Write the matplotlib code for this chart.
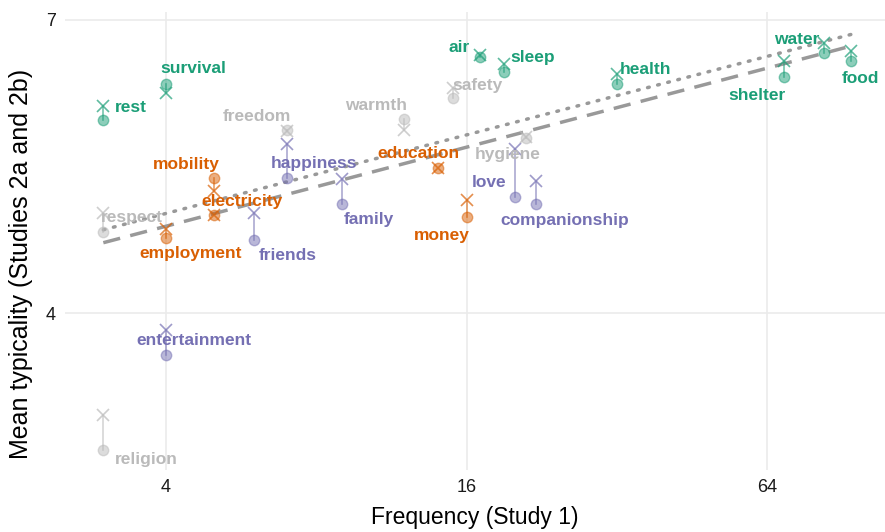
import numpy as np
import matplotlib.pyplot as plt

plt.rcParams['font.family'] = ['Liberation Sans', 'DejaVu Sans']

words = ['rest', 'survival', 'air', 'sleep', 'health', 'shelter', 'water', 'food',
         'mobility', 'electricity', 'employment', 'education', 'money',
         'happiness', 'family', 'friends', 'entertainment', 'love', 'companionship',
         'freedom', 'respect', 'religion', 'warmth', 'safety', 'hygiene']
groups = ['green'] * 8 + ['orange'] * 5 + ['purple'] * 6 + ['grey'] * 6
freq = [3, 4, 17, 19, 32, 69, 83, 94,
        5, 5, 4, 14, 16,
        7, 9, 6, 4, 20, 22,
        7, 3, 3, 12, 15, 21]
typ_2a = [5.97, 6.34, 6.62, 6.46, 6.34, 6.41, 6.66, 6.58,
          5.38, 5.00, 4.77, 5.48, 4.98,
          5.38, 5.12, 4.75, 3.57, 5.19, 5.12,
          5.87, 4.83, 2.60, 5.98, 6.20, 5.79]
typ_2b = [6.12, 6.25, 6.64, 6.55, 6.44, 6.58, 6.76, 6.68,
          5.25, 5.00, 4.86, 5.48, 5.16,
          5.73, 5.37, 5.02, 3.83, 5.68, 5.35,
          5.86, 5.02, 2.96, 5.87, 6.30, 5.80]

colors = {'green': '#1b9e77', 'orange': '#d95f02', 'purple': '#7570b3', 'grey': '#bababa'}

# label offsets in pixels (dx, dy) from the 2a point
offsets = {'rest': (28, 13), 'survival': (28, 16), 'freedom': (-30, 14), 'happiness': (27, 15),
           'mobility': (-28, 14), 'electricity': (28, 14), 'respect': (29, 14),
           'employment': (25, -16), 'friends': (34, -16), 'family': (27, -16),
           'entertainment': (28, 15), 'religion': (43, -9), 'warmth': (-28, 14),
           'education': (-19, 15), 'safety': (25, 12), 'money': (-25, -18), 'air': (-21, 9),
           'sleep': (29, 15), 'love': (-26, 14), 'hygiene': (-18, -17),
           'companionship': (29, -17), 'health': (28, 15), 'shelter': (-27, -18),
           'water': (-27, 13), 'food': (10, -18)}

fig = plt.figure(figsize=(8.85, 5.32), dpi=100)
ax = fig.add_axes([0.074, 0.117, 0.926, 0.861])
ax.set_xscale('log', base=2)

# regression lines
lx = np.log2(freq)
xs = np.linspace(min(lx), max(lx), 50)
b_a = np.polyfit(lx, typ_2a, 1)
b_b = np.polyfit(lx, typ_2b, 1)
ax.plot(2 ** xs, np.polyval(b_a, xs), color='#999999', lw=2.5, ls=(0, (5, 3)), zorder=2)
ax.plot(2 ** xs, np.polyval(b_b, xs), color='#999999', lw=2.5, ls=(0, (0.5, 2.5)),
        dash_capstyle='round', zorder=2)

for w, g, f, a, b in zip(words, groups, freq, typ_2a, typ_2b):
    c = colors[g]
    ax.plot([f, f], [a, b], color=c, alpha=0.6, lw=1.2, zorder=3)
    ax.plot(f, a, 'o', ms=7.5, color=c, alpha=0.5, mec=c, zorder=4)
    ax.plot(f, b, 'x', ms=8, color=c, alpha=0.7, mew=1.2, zorder=4)
    dx, dy = offsets[w]
    ax.annotate(w, (f, a), xytext=(dx, dy), textcoords='offset pixels', ha='center',
                va='center', color=c, fontsize=12.5, fontweight='bold', zorder=5)

ax.set_xlim(2.52, 110)
ax.set_ylim(2.4, 7.08)
ax.set_xticks([4, 16, 64])
ax.set_xticklabels(['4', '16', '64'])
ax.set_yticks([4, 7])
ax.set_yticklabels(['4', '7'])
ax.minorticks_off()
ax.grid(True, color='#ebebeb', lw=1.2)
ax.set_axisbelow(True)
for s in ax.spines.values():
    s.set_visible(False)
ax.tick_params(length=0, labelsize=13, labelcolor='#1a1a1a', pad=7)
ax.set_xlabel('Frequency (Study 1)', fontsize=16.5, labelpad=7)
ax.set_ylabel('Mean typicality (Studies 2a and 2b)', fontsize=18)
ax.yaxis.set_label_coords(-0.040, 0.45)

fig.savefig('out.png', dpi=100)
